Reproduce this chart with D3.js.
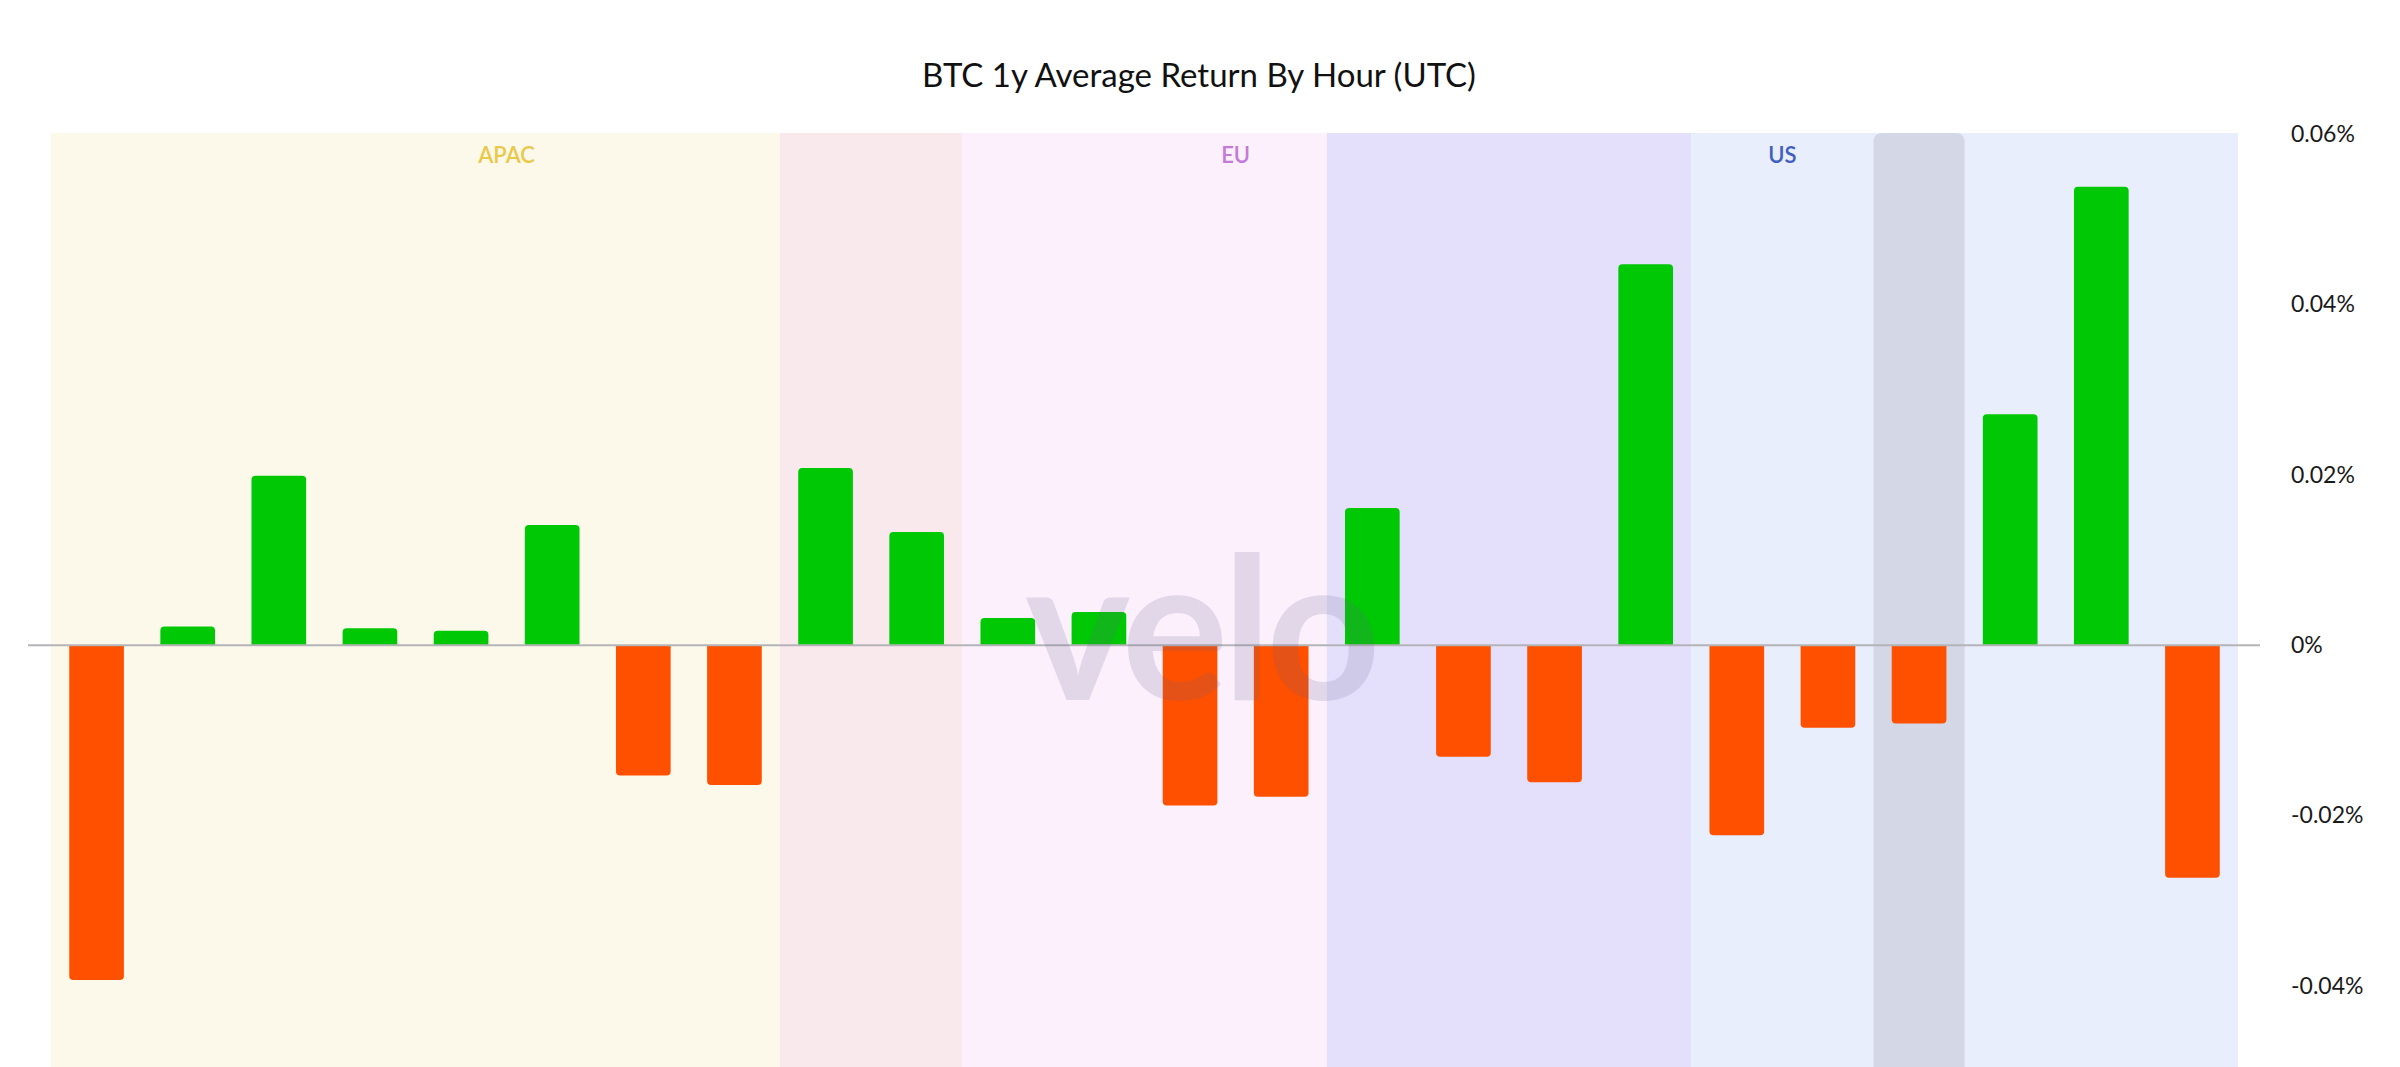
<!DOCTYPE html>
<html>
<head>
<meta charset="utf-8">
<script src="https://cdn.jsdelivr.net/npm/d3@7"></script>
<style>
  html, body { margin: 0; padding: 0; background: #ffffff; }
  svg { display: block; }
</style>
</head>
<body>
<svg id="chart" width="2400" height="1067"></svg>
<script>
// ---------------- DATA ----------------
const chartTitle = "BTC 1y Average Return By Hour (UTC)";
const hours = [0,1,2,3,4,5,6,7,8,9,10,11,12,13,14,15,16,17,18,19,20,21,22,23];
// average return per UTC hour, in percent
const returns = [-0.0393, 0.0022, 0.0199, 0.0020, 0.0017, 0.0141, -0.0153, -0.0164,
                  0.0208, 0.0133, 0.0032, 0.0039, -0.0188, -0.0178, 0.0161, -0.0131,
                 -0.0161, 0.0447, -0.0223, -0.0097, -0.0092, 0.0271, 0.0538, -0.0273];
const yTicks = [-0.04, -0.02, 0, 0.02, 0.04, 0.06];

// background session segments (hour start / end)
const segStart = [0, 8, 10, 14, 18];
const segEnd   = [8, 10, 14, 18, 24];
const segColor = ["#fdf9ea", "#f9e9ec", "#fbf0fc", "#e4e0fb", "#e8eefc"];

// session labels
const sessionNames = ["APAC", "EU", "US"];
const sessionStart = [0, 8, 14];
const sessionEnd   = [10, 18, 24];
const sessionColor = ["#eac84a", "#c47ad6", "#3f5fbf"];

// highlighted hour
const highlightHour = 20;

// ---------------- LAYOUT ----------------
const svg = d3.select("#chart");
const W = 2400, H = 1067;
const plotLeft = 51, plotRight = 2238, plotTop = 133, plotBottom = H;

const xLin = d3.scaleLinear().domain([0, 24]).range([plotLeft, plotRight]);
const xBand = d3.scaleBand().domain(hours).range([plotLeft, plotRight])
  .paddingInner(0.4).paddingOuter(0.2);
const y = d3.scaleLinear().domain([-0.04, 0.06]).range([986, 134]);

const FONT = "Lato, 'Open Sans', 'DejaVu Sans', sans-serif";

// backgrounds
svg.append("g").selectAll("rect")
  .data(segStart.map((s, i) => ({s, e: segEnd[i], c: segColor[i]})))
  .join("rect")
  .attr("x", d => xLin(d.s))
  .attr("y", plotTop)
  .attr("width", d => xLin(d.e) - xLin(d.s))
  .attr("height", plotBottom - plotTop)
  .attr("fill", d => d.c);

// highlight band with rounded top
{
  const x0 = xLin(highlightHour), x1 = xLin(highlightHour + 1), r = 9;
  svg.append("path")
    .attr("d", `M${x0},${plotBottom} V${plotTop + r} Q${x0},${plotTop} ${x0 + r},${plotTop} H${x1 - r} Q${x1},${plotTop} ${x1},${plotTop + r} V${plotBottom} Z`)
    .attr("fill", "#d4d8e6");
}

// session labels
svg.append("g").selectAll("text")
  .data(sessionNames.map((n, i) => ({n, s: sessionStart[i], e: sessionEnd[i], c: sessionColor[i]})))
  .join("text")
  .attr("x", d => (xLin(d.s) + xLin(d.e)) / 2)
  .attr("y", 163)
  .attr("text-anchor", "middle")
  .attr("font-family", FONT)
  .attr("font-size", 22)
  .attr("font-weight", 600)
  .attr("fill", d => d.c)
  .text(d => d.n);

// bars
function barPath(h, v) {
  const x0 = xBand(h), x1 = x0 + xBand.bandwidth();
  const y0 = y(0), y1 = y(v);
  const r = 4;
  if (v >= 0) {
    return `M${x0},${y0} V${y1 + r} Q${x0},${y1} ${x0 + r},${y1} H${x1 - r} Q${x1},${y1} ${x1},${y1 + r} V${y0} Z`;
  } else {
    return `M${x0},${y0} V${y1 - r} Q${x0},${y1} ${x0 + r},${y1} H${x1 - r} Q${x1},${y1} ${x1},${y1 - r} V${y0} Z`;
  }
}
svg.append("g").selectAll("path")
  .data(hours.map((h, i) => ({h, v: returns[i]})))
  .join("path")
  .attr("d", d => barPath(d.h, d.v))
  .attr("fill", d => d.v >= 0 ? "#00c805" : "#ff5000");

// zero line
svg.append("line")
  .attr("x1", 28).attr("x2", 2260)
  .attr("y1", y(0)).attr("y2", y(0))
  .attr("stroke", "#b4b4b8").attr("stroke-width", 2);

// watermark
svg.append("text")
  .attr("x", 1200).attr("y", 700)
  .attr("text-anchor", "middle")
  .attr("font-family", FONT)
  .attr("font-weight", "bold")
  .attr("font-size", 200)
  .attr("letter-spacing", -6)
  .attr("fill", "rgb(100,95,135)")
  .attr("fill-opacity", 0.17)
  .text("velo");

// y axis (right)
const yAxis = d3.axisRight(y)
  .tickValues(yTicks)
  .tickSize(0)
  .tickPadding(0)
  .tickFormat(d => d === 0 ? "0%" : d.toFixed(2) + "%");
const gy = svg.append("g")
  .attr("transform", `translate(2291,0)`)
  .call(yAxis);
gy.select(".domain").remove();
gy.selectAll("text")
  .attr("font-family", FONT)
  .attr("font-size", 23)
  .attr("fill", "#1a1a1a")
  .attr("text-anchor", "start");

// title
svg.append("text")
  .attr("x", 1199).attr("y", 87)
  .attr("text-anchor", "middle")
  .attr("font-family", FONT)
  .attr("font-size", 33)
  .attr("fill", "#111111")
  .text(chartTitle);
</script>
</body>
</html>
